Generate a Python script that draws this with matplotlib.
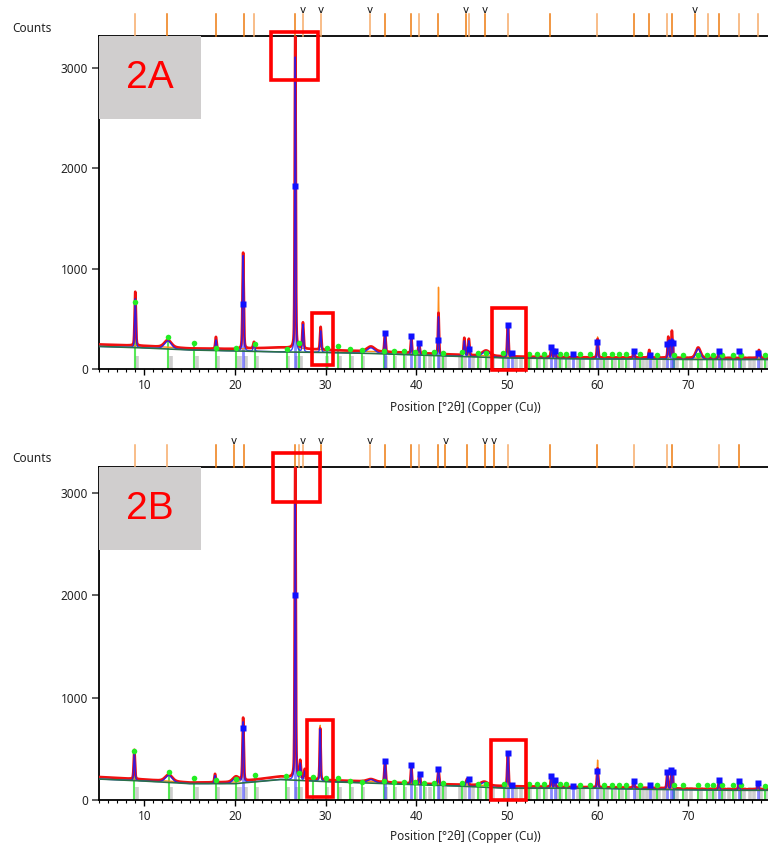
import numpy as np
import matplotlib
matplotlib.use("Agg")
import matplotlib.pyplot as plt
from matplotlib.patches import Rectangle
from matplotlib.ticker import MultipleLocator

plt.rcParams["font.family"] = ["Noto Sans", "DejaVu Sans"]

X_MIN, X_MAX = 5.0, 78.8

# ---- panel 2A ----
bgA_x = [5, 10, 15, 20, 25, 30, 35, 40, 45, 50, 55, 60, 65, 70, 75, 79]
bgA_y = [225, 210, 190, 180, 170, 165, 155, 140, 125, 110, 105, 100, 100, 95, 95, 95]
obsbgA_y = [245, 230, 205, 200, 215, 190, 175, 160, 140, 125, 120, 115, 115, 110, 110, 110]

pkA_pos = [9.0, 12.6, 17.9, 20.9, 22.1, 26.65, 27.5, 29.45, 35.0, 36.55, 39.45, 40.3,
           42.45, 45.3, 45.8, 47.7, 50.1, 54.9, 55.3, 60.0, 64.0, 65.7, 67.8, 68.2,
           71.1, 73.4, 77.8]
pkA_obs = [770, 290, 320, 1160, 270, 3400, 460, 420, 225, 360, 330, 260,
           560, 310, 300, 185, 440, 220, 190, 300, 180, 190, 320, 380,
           215, 180, 190]
pkA_calc = [700, 280, 290, 1130, 250, 3110, 440, 380, 210, 360, 330, 260,
            520, 280, 280, 175, 440, 220, 180, 270, 180, 150, 280, 300,
            200, 180, 160]
pkA_fwhm = [0.16, 0.9, 0.16, 0.16, 0.2, 0.13, 0.16, 0.16, 1.0, 0.16, 0.13, 0.16,
            0.13, 0.16, 0.16, 1.0, 0.16, 0.16, 0.16, 0.16, 0.16, 0.16, 0.16, 0.16,
            0.6, 0.16, 0.25]
orA_pos = [26.65, 42.45, 45.3, 60.0, 68.2]
orA_top = [3400, 815, 310, 320, 380]

greenA_pos = [9.0, 12.6, 15.5, 17.9, 20.1, 22.2, 25.7, 27.1, 30.1, 31.4, 32.7, 34.0,
              36.4, 37.5, 38.6, 39.9, 40.9, 41.9, 42.9, 45.0, 46.8, 47.7, 49.6, 52.4,
              53.3, 54.1, 55.8, 56.5, 58.1, 59.2, 60.7, 61.6, 62.4, 63.1, 64.7, 66.5,
              68.4, 69.4, 71.1, 72.1, 72.7, 73.7, 74.9, 75.8, 78.5]
greenA_cnt = [670, 320, 260, 210, 210, 250, 200, 260, 210, 230, 200, 190,
              180, 180, 180, 170, 170, 170, 160, 170, 160, 160, 160, 150,
              150, 150, 150, 150, 145, 145, 145, 145, 145, 145, 145, 140,
              140, 140, 140, 140, 140, 140, 140, 140, 140]
blueA_pos = [20.9, 26.65, 36.6, 39.4, 40.3, 42.4, 45.8, 50.1, 50.6, 54.9, 55.3, 57.3,
             59.9, 64.0, 65.8, 67.7, 68.1, 68.3, 73.4, 75.6, 77.7]
blueA_cnt = [650, 1825, 360, 330, 260, 290, 200, 440, 160, 220, 180, 150,
             270, 180, 140, 250, 270, 260, 180, 180, 160]

refA_pos = [9.0, 12.54, 17.94, 21.03, 22.13, 26.65, 27.53, 29.51, 34.92, 36.57, 39.44,
            40.32, 42.41, 45.50, 45.83, 47.60, 50.13, 54.76, 59.94, 64.02, 65.68,
            67.66, 68.21, 70.75, 72.18, 73.40, 75.60, 77.70]
refA_dark = [0, 1, 1, 1, 0, 1, 0, 0, 0, 1, 1,
             0, 1, 1, 0, 1, 0, 1, 0, 1, 1,
             0, 1, 1, 0, 1, 0, 0]
vA_pos = [27.53, 29.51, 34.92, 45.50, 47.60, 70.75]

# ---- panel 2B ----
bgB_x = [5, 10, 15, 20, 25, 30, 35, 40, 45, 50, 55, 60, 65, 70, 75, 79]
bgB_y = [205, 185, 160, 160, 200, 180, 165, 150, 135, 115, 115, 115, 105, 100, 95, 95]
obsbgB_y = [225, 200, 170, 175, 230, 195, 180, 160, 150, 135, 130, 125, 120, 110, 105, 105]

pkB_pos = [8.9, 12.7, 17.8, 20.1, 20.9, 26.65, 27.2, 27.7, 29.4, 35.0, 36.55, 39.45,
           40.35, 42.45, 45.6, 47.5, 50.1, 54.9, 55.3, 60.0, 64.0, 67.7, 68.2,
           73.4, 75.6, 77.7]
pkB_obs = [490, 250, 255, 230, 800, 3400, 380, 300, 700, 205, 380, 340,
           255, 300, 205, 180, 460, 235, 195, 310, 185, 270, 300,
           195, 185, 165]
pkB_calc = [450, 240, 240, 215, 760, 2900, 350, 280, 690, 200, 380, 340,
            255, 300, 200, 170, 460, 235, 195, 285, 185, 270, 295,
            195, 185, 165]
pkB_fwhm = [0.16, 0.9, 0.16, 0.8, 0.16, 0.13, 0.16, 0.16, 0.13, 1.0, 0.16, 0.13,
            0.16, 0.16, 0.25, 1.0, 0.16, 0.16, 0.16, 0.16, 0.16, 0.16, 0.16,
            0.16, 0.16, 0.16]
orB_pos = [20.9, 26.65, 29.4, 60.0]
orB_top = [800, 3400, 730, 390]

greenB_pos = [8.9, 12.7, 15.5, 17.9, 20.1, 22.2, 25.6, 27.1, 28.6, 30.0, 31.4, 32.7,
              34.0, 36.4, 37.5, 38.6, 39.9, 40.9, 41.9, 43.0, 45.0, 46.8, 47.7, 49.7,
              52.4, 53.3, 54.1, 55.8, 56.5, 58.1, 59.2, 60.7, 61.6, 62.4, 63.1, 64.7,
              66.5, 68.4, 69.4, 71.1, 72.1, 72.7, 73.7, 74.9, 75.8, 78.5]
greenB_cnt = [480, 275, 215, 195, 205, 240, 235, 265, 225, 215, 215, 185,
              180, 185, 180, 180, 175, 170, 165, 165, 165, 160, 160, 160,
              155, 155, 155, 155, 155, 150, 150, 150, 150, 150, 150, 150,
              145, 145, 145, 145, 145, 145, 145, 145, 145, 140]
blueB_pos = [20.9, 26.65, 36.6, 39.4, 40.4, 42.4, 45.8, 50.1, 50.6, 54.9, 55.3, 57.3,
             59.9, 64.0, 65.8, 67.7, 68.1, 68.3, 73.4, 75.6, 77.7]
blueB_cnt = [705, 2004, 380, 340, 255, 300, 205, 460, 150, 235, 195, 140,
             285, 185, 150, 270, 295, 270, 195, 185, 165]

refB_pos = [9.0, 12.54, 17.94, 19.9, 21.03, 26.65, 27.1, 27.53, 29.51, 34.92, 36.57,
            39.44, 40.32, 42.41, 43.2, 45.6, 47.60, 48.6, 50.13, 54.76, 59.94, 64.02,
            67.66, 68.21, 73.40, 75.60]
refB_dark = [0, 0, 1, 1, 1, 1, 0, 0, 1, 0, 1,
             1, 0, 1, 1, 1, 1, 1, 0, 1, 1, 0,
             0, 1, 0, 1]
vB_pos = [19.9, 27.53, 29.51, 34.92, 43.2, 47.60, 48.6]

# grey reference sticks, shared by both panels
grey_pos = [9.2, 12.9, 15.8, 18.1, 20.2, 20.5, 21.2, 22.4, 25.9, 26.8, 27.3, 30.2,
            31.6, 32.9, 34.1, 36.7, 37.7, 38.8, 40.0, 41.0, 41.5, 42.6, 43.2, 44.8,
            45.4, 46.3, 47.0, 47.9, 48.5, 49.8, 51.0, 51.6, 52.6, 53.5, 54.3, 55.6,
            56.0, 56.8, 57.8, 58.4, 59.4, 60.4, 61.0, 61.9, 62.7, 63.4, 64.4, 65.0,
            65.5, 66.2, 66.8, 67.3, 68.8, 69.7, 70.3, 71.4, 72.4, 73.0, 74.0, 74.5,
            75.2, 76.2, 76.8, 77.3, 78.0, 78.6]
grey_cnt = 125


def profile(x, bg_x, bg_y, pos, top, fwhm):
    base = np.interp(x, bg_x, bg_y)
    y = base.copy()
    for p, t, w in zip(pos, top, fwhm):
        h = t - np.interp(p, bg_x, bg_y)
        hw = w / 2.0
        lor = 1.0 / (1.0 + ((x - p) / hw) ** 2)
        gau = np.exp(-np.log(2) * ((x - p) / hw) ** 2)
        y += h * (0.3 * lor + 0.7 * gau)
    return y


def draw_panel(ax, tag, bg_x, bg_y, obsbg_y, pos, obs, calc, fwhm, or_pos, or_top,
               g_pos, g_cnt, b_pos, b_cnt, ref_pos, ref_dark, v_pos, ymax, boxes):
    x = np.union1d(np.arange(X_MIN, 79.0, 0.01), pos)

    ax.vlines(grey_pos, 0, grey_cnt, color="#cdcdcd", lw=2.6, zorder=1)
    ax.vlines(g_pos, 0, g_cnt, color="#44e644", lw=1.5, alpha=0.9, zorder=2)
    ax.vlines(b_pos, 0, b_cnt, color="#3b3bff", lw=2.0, alpha=0.6, zorder=2)

    or_fwhm = [fwhm[pos.index(p)] * 0.8 for p in or_pos]
    ax.plot(x, profile(x, bg_x, obsbg_y, or_pos, or_top, or_fwhm),
            color="#ff8c1a", lw=1.0, zorder=3)
    ax.plot(x, profile(x, bg_x, obsbg_y, pos, obs, fwhm),
            color="#f01010", lw=1.9, zorder=4)
    ax.plot(x, profile(x, bg_x, bg_y, pos, calc, fwhm),
            color="#1a1aff", lw=1.0, alpha=0.85, zorder=5)
    ax.plot(bg_x, bg_y, color="#2a7048", lw=1.2, zorder=6)

    ax.plot(g_pos, g_cnt, "o", ms=4, color="#22ee22", mec="none", zorder=7)
    ax.plot(b_pos, b_cnt, "s", ms=4.2, color="#1010ff", mec="none", zorder=7)

    ax.set_xlim(X_MIN, X_MAX)
    ax.set_ylim(0, ymax)
    ax.set_yticks([0, 1000, 2000, 3000])
    ax.xaxis.set_major_locator(MultipleLocator(10))
    ax.xaxis.set_minor_locator(MultipleLocator(1))
    ax.tick_params(axis="x", which="major", length=4, width=1, pad=3,
                   labelsize=8.5, labelcolor="#222222")
    ax.tick_params(axis="x", which="minor", length=2.2, width=0.8)
    ax.tick_params(axis="y", length=5, width=1.2, pad=3, labelsize=8.5,
                   labelcolor="#222222", color="#444444")
    ax.spines["right"].set_visible(False)
    for s in ("left", "bottom", "top"):
        ax.spines[s].set_linewidth(1.3)

    # sample label box
    ax.add_patch(Rectangle((0, 0.75), 0.153, 0.25, transform=ax.transAxes,
                           color="#d0cece", zorder=8, lw=0))
    ax.text(0.0765, 0.875, tag, transform=ax.transAxes, ha="center", va="center",
            fontsize=28, color="#ff0000", family="Liberation Sans", zorder=9)

    for x0, x1, y0, y1 in boxes:
        ax.add_patch(Rectangle((x0, y0), x1 - x0, y1 - y0, fill=False,
                               ec="#ff0000", lw=2.6, clip_on=False, zorder=10))

    # reference pattern ticks above the frame
    tr = ax.get_xaxis_transform()
    for p, d in zip(ref_pos, ref_dark):
        ax.plot([p, p], [1.0, 1.066], transform=tr, clip_on=False, lw=1.1,
                color="#ee7a10" if d else "#f7ab68", zorder=3)
    for p in v_pos:
        ax.text(p, 1.062, "v", transform=tr, ha="center", va="bottom",
                fontsize=7.5, color="#111111", family="DejaVu Sans")


fig = plt.figure(figsize=(7.68, 8.47), dpi=100)
axA = fig.add_axes([99 / 768, 1 - 369 / 847, (768 - 99) / 768, 333 / 847])
axB = fig.add_axes([99 / 768, 1 - 800 / 847, (768 - 99) / 768, 333 / 847])

boxesA = [(24.0, 29.2, 2880, 3360), (28.45, 30.85, 40, 558), (48.3, 52.1, -10, 608)]
boxesB = [(24.2, 29.4, 2913, 3392), (28.0, 30.85, 29, 782), (48.2, 52.1, 0, 587)]

draw_panel(axA, "2A", bgA_x, bgA_y, obsbgA_y, pkA_pos, pkA_obs, pkA_calc, pkA_fwhm,
           orA_pos, orA_top, greenA_pos, greenA_cnt, blueA_pos, blueA_cnt,
           refA_pos, refA_dark, vA_pos, 3320, boxesA)
draw_panel(axB, "2B", bgB_x, bgB_y, obsbgB_y, pkB_pos, pkB_obs, pkB_calc, pkB_fwhm,
           orB_pos, orB_top, greenB_pos, greenB_cnt, blueB_pos, blueB_cnt,
           refB_pos, refB_dark, vB_pos, 3255, boxesB)

for ytop, ylab in ((28, 408), (458, 836)):
    fig.text(12 / 768, 1 - ytop / 847, "Counts", fontsize=8.5, color="#222222",
             va="center", ha="left")
    fig.text(465 / 768, 1 - ylab / 847, "Position [°2θ] (Copper (Cu))", fontsize=8.5,
             color="#222222", va="center", ha="center")

fig.savefig("out.png", dpi=100)
